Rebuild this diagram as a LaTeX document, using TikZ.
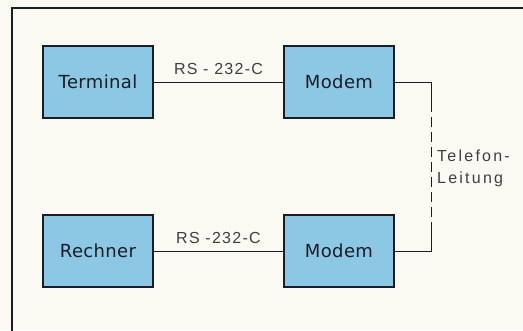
\documentclass[tikz,border=0pt]{standalone}
\usepackage{fontspec}
\setmainfont{DejaVu Sans}
\newfontfamily\labfont[LetterSpace=8]{Liberation Sans}
\newfontfamily\telfont[LetterSpace=14]{Liberation Sans}
\newfontfamily\boxfont[LetterSpace=2]{DejaVu Sans}
\definecolor{bg}{HTML}{FBFAF2}
\definecolor{boxblue}{HTML}{8CC8E4}
\definecolor{ink}{HTML}{1C1C26}
\tikzset{
  unit/.style={draw=ink, line width=1.6pt, fill=boxblue, minimum width=110pt, minimum height=72pt, inner sep=0pt, font=\boxfont\fontsize{18}{20}\selectfont, text=ink},
  wire/.style={draw=ink, line width=0.9pt},
  lab/.style={font=\labfont\fontsize{16}{18}\selectfont, text=ink!85, inner sep=0pt},
  tel/.style={font=\telfont\fontsize{16}{22}\selectfont, text=ink!85, inner sep=0pt}
}
\begin{document}
\begin{tikzpicture}[x=1pt,y=-1pt]
\useasboundingbox (0,0) rectangle (523,330);
\fill[bg] (0,0) rectangle (523,330);
\draw[ink, line width=2pt] (12,331) -- (12,8) -- (524,8);
\node[unit] (term) at (98,82) {Terminal};
\node[unit] (m1) at (339,82) {Modem};
\node[unit] (rech) at (98,251) {Rechner};
\node[unit] (m2) at (339,251) {Modem};
\coordinate (c1) at (431,82);
\coordinate (c2) at (431,251);
\coordinate (d1) at (431,102);
\coordinate (d2) at (431,232);
\draw[wire] (term) -- node[lab, above=7pt]{RS - 232-C} (m1);
\draw[wire] (rech) -- node[lab, above=7pt]{RS -232-C} (m2);
\draw[wire] (m1.east) -- (c1) -- (d1);
\draw[wire] (m2.east) -- (c2) -- (d2);
\draw[wire, dash pattern=on 10pt off 5pt] (d1) -- (d2);
\node[tel, anchor=west, align=left] (tel) at (437,168) {Telefon-\\Leitung};
\end{tikzpicture}
\end{document}
